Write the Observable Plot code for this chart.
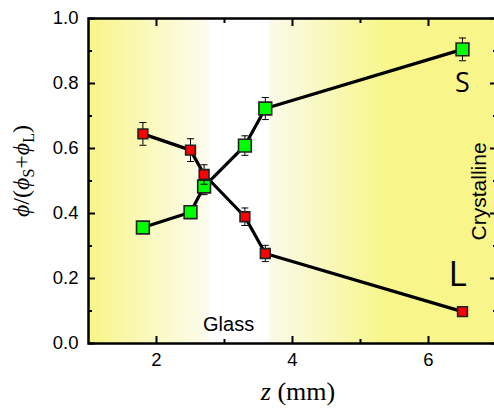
<!DOCTYPE html>
<html>
<head>
<meta charset="utf-8">
<script src="https://cdn.jsdelivr.net/npm/d3@7"></script>
<script src="https://cdn.jsdelivr.net/npm/@observablehq/plot@0.6"></script>
<style>
  html, body { margin: 0; padding: 0; background: #ffffff; }
  #chart svg { display: block; }
</style>
</head>
<body>
<div id="chart"></div>
<script>
// ---- data ----
const zValues = [1.8, 2.5, 2.7, 3.3, 3.6, 6.5];          // z (mm)
const phiL    = [0.645, 0.595, 0.52, 0.39, 0.277, 0.098]; // liquid fraction
const errL    = [0.035, 0.035, 0.03, 0.027, 0.025, 0];
const phiS    = [0.357, 0.404, 0.483, 0.609, 0.723, 0.905]; // solid fraction
const errS    = [0, 0.01, 0.025, 0.03, 0.034, 0.035];

// ticks
const xMajorTicks = [2, 4, 6];
const xMinorTicks = [3, 5];
const yMajorTicks = [0, 0.2, 0.4, 0.6, 0.8, 1.0];
const yMinorTicks = [0.1, 0.3, 0.5, 0.7, 0.9];

// annotations
const annText = ["S", "L", "Glass", "Crystalline"];
const annZ    = [6.5, 6.43, 3.06, 6.75];
const annPhi  = [0.80, 0.21, 0.058, 0.468];

// background zones (z positions of gradient stops)
const bgStopZ     = [1, 2.78, 2.78, 3.66, 3.66, 5.4, 7];
const bgStopColor = ["#f8f588", "#fcfcf0", "#ffffff", "#ffffff", "#fafaea", "#f8f68a", "#f8f68a"];

// ---- tables built from the arrays ----
const dataL = zValues.map((z, i) => ({z, phi: phiL[i], err: errL[i]}));
const dataS = zValues.map((z, i) => ({z, phi: phiS[i], err: errS[i]}));
const barsL = dataL.filter(d => d.err > 0);
const barsS = dataS.filter(d => d.err > 0);
const ann = annText.map((t, i) => ({t, z: annZ[i], phi: annPhi[i]}));

// error-bar cap symbol (short horizontal line)
const capSymbol = { draw(ctx) { ctx.moveTo(-3.5, 0); ctx.lineTo(3.5, 0); } };

// background gradient drawn through the x/y scales
function background(index, scales) {
  const x0 = scales.x(bgStopZ[0]), x1 = scales.x(bgStopZ[bgStopZ.length - 1]);
  const g = d3.create("svg:g");
  const grad = g.append("defs").append("linearGradient")
    .attr("id", "bgGrad").attr("gradientUnits", "userSpaceOnUse")
    .attr("x1", x0).attr("x2", x1).attr("y1", 0).attr("y2", 0);
  bgStopZ.forEach((z, i) => grad.append("stop")
    .attr("offset", (scales.x(z) - x0) / (x1 - x0))
    .attr("stop-color", bgStopColor[i]));
  g.append("rect")
    .attr("x", x0).attr("width", x1 - x0)
    .attr("y", scales.y(1)).attr("height", scales.y(0) - scales.y(1))
    .attr("fill", "url(#bgGrad)");
  return g.node();
}

// axis titles with italic / subscript parts
function axisTitles(index, scales, values, dims) {
  const g = d3.create("svg:g").attr("font-family", "'Liberation Serif', 'DejaVu Serif', serif").attr("fill", "black");
  const yMid = 171;
  const yl = g.append("text")
    .attr("transform", `translate(29,${yMid}) rotate(-90)`)
    .attr("text-anchor", "middle").attr("font-size", 24);
  yl.append("tspan").attr("font-style", "italic").text("ϕ");
  yl.append("tspan").text("/(");
  yl.append("tspan").attr("font-style", "italic").text("ϕ");
  yl.append("tspan").attr("font-size", 16).attr("dy", 5).text("S");
  yl.append("tspan").attr("dy", -5).text("+");
  yl.append("tspan").attr("font-style", "italic").text("ϕ");
  yl.append("tspan").attr("font-size", 16).attr("dy", 5).text("L");
  yl.append("tspan").attr("dy", -5).text(")");

  const xl = g.append("text")
    .attr("x", 298).attr("y", 400)
    .attr("text-anchor", "middle").attr("font-size", 26);
  xl.append("tspan").attr("font-style", "italic").text("z");
  xl.append("tspan").text(" (mm)");
  return g.node();
}

const sans = "'Liberation Sans', Arial, sans-serif";

const chart = Plot.plot({
  width: 494,
  height: 408,
  marginLeft: 88,
  marginRight: -2,
  marginTop: 18,
  marginBottom: 65,
  style: { fontFamily: sans, fontSize: "18.5px", background: "transparent", overflow: "visible" },
  x: { domain: [1, 7] },
  y: { domain: [0, 1] },
  marks: [
    background,
    // lines
    Plot.line(dataS, { x: "z", y: "phi", stroke: "black", strokeWidth: 3.2 }),
    Plot.line(dataL, { x: "z", y: "phi", stroke: "black", strokeWidth: 3.2 }),
    // S series
    Plot.ruleX(barsS, { x: "z", y1: d => d.phi - d.err, y2: d => d.phi + d.err, stroke: "black", strokeWidth: 1 }),
    Plot.dot(barsS, { x: "z", y: d => d.phi - d.err, symbol: capSymbol, stroke: "black", strokeWidth: 1, r: 3 }),
    Plot.dot(barsS, { x: "z", y: d => d.phi + d.err, symbol: capSymbol, stroke: "black", strokeWidth: 1, r: 3 }),
    Plot.dot(dataS, { x: "z", y: "phi", symbol: "square", r: 7.2, fill: "#00ff00", stroke: "#222", strokeWidth: 1.6 }),
    // L series
    Plot.ruleX(barsL, { x: "z", y1: d => d.phi - d.err, y2: d => d.phi + d.err, stroke: "black", strokeWidth: 1 }),
    Plot.dot(barsL, { x: "z", y: d => d.phi - d.err, symbol: capSymbol, stroke: "black", strokeWidth: 1, r: 3 }),
    Plot.dot(barsL, { x: "z", y: d => d.phi + d.err, symbol: capSymbol, stroke: "black", strokeWidth: 1, r: 3 }),
    Plot.dot(dataL, { x: "z", y: "phi", symbol: "square", r: 5.5, fill: "#ff0000", stroke: "#222", strokeWidth: 1.6 }),
    // annotations
    Plot.text([ann[0]], { x: "z", y: "phi", text: "t", fontFamily: "'Open Sans', sans-serif", fontSize: 27, fill: "black" }),
    Plot.text([ann[1]], { x: "z", y: "phi", text: "t", fontFamily: "'Open Sans', sans-serif", fontSize: 35, fill: "black" }),
    Plot.text([ann[2]], { x: "z", y: "phi", text: "t", fontFamily: sans, fontSize: 20, fill: "black" }),
    Plot.text([ann[3]], { x: "z", y: "phi", text: "t", fontFamily: sans, fontSize: 21, rotate: -90, fill: "black" }),
    // axes: labels
    Plot.axisY(yMajorTicks, { anchor: "left", tickSize: 0, tickPadding: 10, tickFormat: d3.format(".1f"), label: null }),
    Plot.axisX(xMajorTicks, { anchor: "bottom", tickSize: 0, tickPadding: 9, tickFormat: d3.format("d"), label: null }),
    // axes: inward ticks on all four sides
    Plot.axisY(yMajorTicks, { anchor: "left", tickSize: -7, strokeWidth: 2, tickFormat: () => "", label: null }),
    Plot.axisY(yMinorTicks, { anchor: "left", tickSize: -4, strokeWidth: 2, tickFormat: () => "", label: null }),
    Plot.axisY(yMajorTicks, { anchor: "right", tickSize: -7, strokeWidth: 2, tickFormat: () => "", label: null }),
    Plot.axisY(yMinorTicks, { anchor: "right", tickSize: -4, strokeWidth: 2, tickFormat: () => "", label: null }),
    Plot.axisX(xMajorTicks, { anchor: "bottom", tickSize: -7, strokeWidth: 2, tickFormat: () => "", label: null }),
    Plot.axisX(xMinorTicks, { anchor: "bottom", tickSize: -4, strokeWidth: 2, tickFormat: () => "", label: null }),
    Plot.axisX(xMajorTicks, { anchor: "top", tickSize: -7, strokeWidth: 2, tickFormat: () => "", label: null }),
    Plot.axisX(xMinorTicks, { anchor: "top", tickSize: -4, strokeWidth: 2, tickFormat: () => "", label: null }),
    Plot.frame({ stroke: "black", strokeWidth: 2.5 }),
    axisTitles
  ]
});

document.getElementById("chart").appendChild(chart);
</script>
</body>
</html>
